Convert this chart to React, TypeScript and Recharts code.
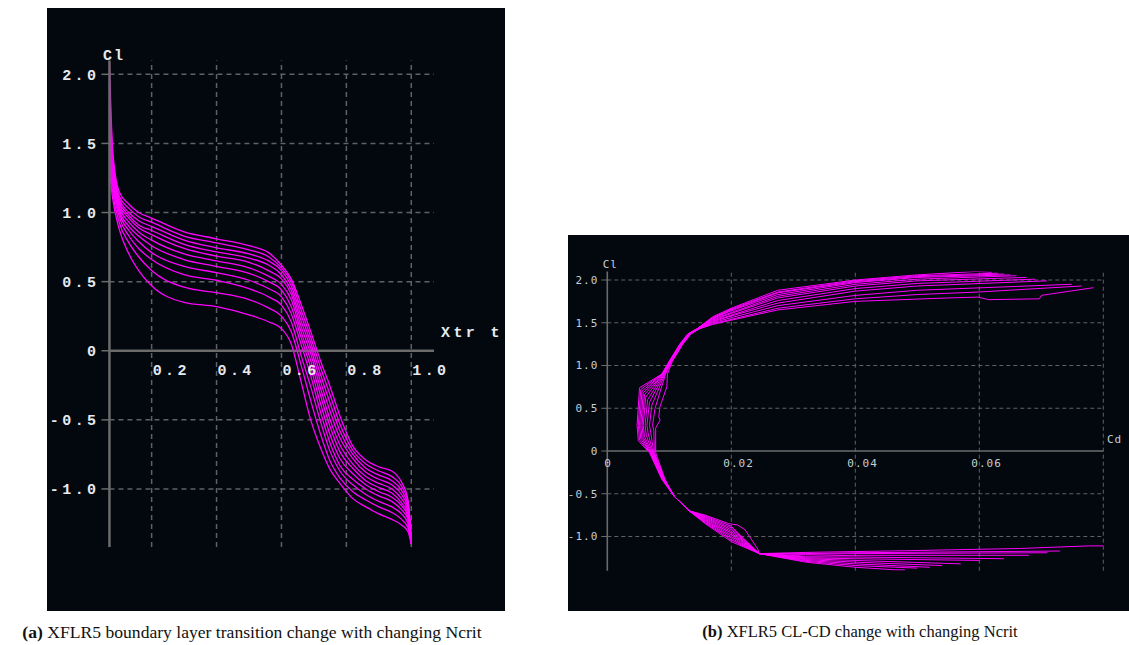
import React from "react";
import { LineChart, Line, XAxis, YAxis, ReferenceLine } from "recharts";

// ---------- (a) Cl vs top transition position, one curve per Ncrit ----------
const xtrPositions = [
  0.07, 0.08, 0.1, 0.13, 0.16, 0.2, 0.3, 0.4, 0.5, 0.56, 0.6, 0.63, 0.66, 0.69,
  0.72, 0.75, 0.78, 0.82, 0.86, 0.9, 0.94, 0.97, 0.99, 1.0,
];

const clXtr01 = [2.1, 1.45, 1.15, 1.06, 1.0, 0.96, 0.86, 0.81, 0.76, 0.71, 0.62, 0.52, 0.34, 0.14, -0.07, -0.26, -0.47, -0.69, -0.79, -0.84, -0.87, -0.95, -1.08, -1.35];
const clXtr02 = [1.95, 1.42, 1.12, 1.03, 0.97, 0.93, 0.83, 0.78, 0.73, 0.68, 0.6, 0.5, 0.3, 0.1, -0.12, -0.32, -0.53, -0.72, -0.82, -0.87, -0.91, -0.98, -1.1, -1.36];
const clXtr03 = [1.85, 1.39, 1.1, 1.0, 0.94, 0.9, 0.8, 0.745, 0.7, 0.65, 0.58, 0.47, 0.26, 0.06, -0.17, -0.38, -0.58, -0.75, -0.85, -0.9, -0.94, -1.01, -1.12, -1.37];
const clXtr04 = [1.75, 1.36, 1.08, 0.98, 0.91, 0.87, 0.77, 0.715, 0.67, 0.62, 0.55, 0.44, 0.22, 0.02, -0.22, -0.44, -0.63, -0.78, -0.88, -0.93, -0.97, -1.04, -1.14, -1.37];
const clXtr05 = [1.7, 1.33, 1.06, 0.96, 0.89, 0.84, 0.74, 0.685, 0.64, 0.58, 0.52, 0.41, 0.18, -0.02, -0.27, -0.5, -0.68, -0.82, -0.91, -0.96, -1.0, -1.07, -1.16, -1.38];
const clXtr06 = [1.62, 1.3, 1.04, 0.93, 0.86, 0.8, 0.7, 0.65, 0.6, 0.54, 0.48, 0.37, 0.14, -0.07, -0.32, -0.55, -0.73, -0.85, -0.94, -0.99, -1.03, -1.1, -1.18, -1.38];
const clXtr07 = [1.55, 1.27, 1.02, 0.9, 0.83, 0.76, 0.66, 0.61, 0.56, 0.5, 0.44, 0.32, 0.1, -0.12, -0.38, -0.61, -0.78, -0.89, -0.97, -1.02, -1.06, -1.12, -1.2, -1.39];
const clXtr08 = [1.5, 1.24, 1.0, 0.87, 0.79, 0.71, 0.61, 0.565, 0.51, 0.45, 0.39, 0.27, 0.05, -0.18, -0.44, -0.67, -0.83, -0.93, -1.0, -1.05, -1.09, -1.15, -1.22, -1.39];
const clXtr09 = [1.45, 1.2, 0.97, 0.83, 0.74, 0.66, 0.55, 0.51, 0.45, 0.39, 0.33, 0.21, -0.03, -0.26, -0.51, -0.73, -0.87, -0.97, -1.04, -1.09, -1.13, -1.18, -1.25, -1.4];
const clXtr10 = [1.38, 1.15, 0.93, 0.78, 0.68, 0.58, 0.46, 0.42, 0.37, 0.31, 0.25, 0.14, -0.1, -0.36, -0.6, -0.8, -0.92, -1.02, -1.08, -1.13, -1.17, -1.22, -1.28, -1.4];
const clXtr11 = [1.3, 1.1, 0.88, 0.7, 0.58, 0.47, 0.35, 0.32, 0.26, 0.21, 0.16, 0.05, -0.22, -0.5, -0.7, -0.86, -0.96, -1.07, -1.13, -1.18, -1.22, -1.26, -1.31, -1.4];

const xtrCurves = [clXtr01, clXtr02, clXtr03, clXtr04, clXtr05, clXtr06, clXtr07, clXtr08, clXtr09, clXtr10, clXtr11];

const leftXTicks = [0.2, 0.4, 0.6, 0.8, 1.0];
const leftYTicks = [-1, -0.5, 0, 0.5, 1, 1.5, 2];

// ---------- (b) Cl-Cd polars, points as [Cd, Cl] in alpha order ----------
const polar01 = [[0.048, -1.39], [0.0465, -1.39], [0.04, -1.36], [0.032, -1.3], [0.0245, -1.2], [0.02, -1.06], [0.0158, -0.85], [0.0132, -0.7], [0.0108, -0.53], [0.0088, -0.33], [0.0068, -0.02], [0.005, 0.12], [0.0048, 0.3], [0.0052, 0.74], [0.0088, 0.9], [0.01, 1.05], [0.0117, 1.25], [0.013, 1.37], [0.0145, 1.43], [0.017, 1.57], [0.02, 1.67], [0.0275, 1.88], [0.04, 2.0], [0.05, 2.06], [0.0595, 2.1], [0.062, 2.09]];
const polar02 = [[0.05, -1.37], [0.04, -1.34], [0.032, -1.29], [0.0245, -1.2], [0.02, -1.04], [0.0158, -0.84], [0.0132, -0.7], [0.0108, -0.53], [0.0088, -0.33], [0.0069, -0.02], [0.0052, 0.13], [0.005, 0.3], [0.0054, 0.72], [0.0088, 0.9], [0.01, 1.05], [0.0117, 1.25], [0.013, 1.37], [0.0145, 1.43], [0.017, 1.56], [0.02, 1.66], [0.0275, 1.86], [0.04, 1.99], [0.05, 2.05], [0.063, 2.08]];
const polar03 = [[0.052, -1.36], [0.04, -1.32], [0.032, -1.28], [0.0245, -1.2], [0.02, -1.02], [0.0158, -0.83], [0.0132, -0.7], [0.0108, -0.53], [0.0089, -0.33], [0.007, -0.02], [0.0054, 0.14], [0.0052, 0.3], [0.0056, 0.7], [0.0089, 0.9], [0.0101, 1.05], [0.0118, 1.25], [0.0131, 1.37], [0.0145, 1.43], [0.017, 1.555], [0.02, 1.65], [0.0275, 1.85], [0.04, 1.98], [0.05, 2.04], [0.064, 2.07]];
const polar04 = [[0.054, -1.34], [0.04, -1.3], [0.032, -1.27], [0.0245, -1.2], [0.02, -1.0], [0.0158, -0.82], [0.0132, -0.7], [0.0108, -0.53], [0.0089, -0.33], [0.007, -0.02], [0.0056, 0.15], [0.0054, 0.3], [0.0058, 0.68], [0.0089, 0.9], [0.0101, 1.05], [0.0118, 1.25], [0.0131, 1.37], [0.0146, 1.43], [0.017, 1.55], [0.02, 1.64], [0.0275, 1.83], [0.04, 1.97], [0.05, 2.03], [0.065, 2.06]];
const polar05 = [[0.057, -1.32], [0.04, -1.28], [0.032, -1.26], [0.0245, -1.2], [0.02, -0.98], [0.0158, -0.81], [0.0132, -0.7], [0.0108, -0.53], [0.009, -0.33], [0.0071, -0.02], [0.0058, 0.16], [0.0056, 0.3], [0.006, 0.66], [0.009, 0.9], [0.0102, 1.05], [0.0119, 1.25], [0.0132, 1.37], [0.0146, 1.43], [0.017, 1.54], [0.02, 1.62], [0.0275, 1.81], [0.04, 1.95], [0.05, 2.01], [0.066, 2.05]];
const polar06 = [[0.06, -1.28], [0.04, -1.26], [0.032, -1.25], [0.0245, -1.2], [0.02, -0.96], [0.0158, -0.8], [0.0132, -0.7], [0.0108, -0.53], [0.009, -0.33], [0.0072, -0.02], [0.006, 0.17], [0.0058, 0.3], [0.0062, 0.63], [0.009, 0.9], [0.0102, 1.05], [0.0119, 1.25], [0.0132, 1.37], [0.0146, 1.43], [0.017, 1.53], [0.02, 1.61], [0.0275, 1.79], [0.04, 1.93], [0.05, 1.99], [0.0676, 2.03]];
const polar07 = [[0.064, -1.26], [0.04, -1.24], [0.032, -1.24], [0.0245, -1.2], [0.02, -0.94], [0.0158, -0.79], [0.0132, -0.7], [0.0108, -0.53], [0.0091, -0.33], [0.0073, -0.02], [0.0063, 0.18], [0.0061, 0.3], [0.0065, 0.6], [0.0091, 0.9], [0.0103, 1.05], [0.012, 1.25], [0.0133, 1.37], [0.0147, 1.43], [0.017, 1.52], [0.02, 1.59], [0.0275, 1.76], [0.04, 1.9], [0.05, 1.96], [0.069, 2.01]];
const polar08 = [[0.068, -1.22], [0.04, -1.22], [0.032, -1.23], [0.0245, -1.2], [0.02, -0.92], [0.0158, -0.78], [0.0132, -0.7], [0.0108, -0.53], [0.0091, -0.33], [0.0074, -0.02], [0.0066, 0.2], [0.0064, 0.3], [0.0068, 0.57], [0.0092, 0.9], [0.0103, 1.05], [0.012, 1.25], [0.0133, 1.37], [0.0147, 1.43], [0.017, 1.51], [0.02, 1.58], [0.0275, 1.73], [0.04, 1.87], [0.05, 1.93], [0.0709, 1.99]];
const polar09 = [[0.071, -1.19], [0.04, -1.2], [0.032, -1.21], [0.0245, -1.2], [0.02, -0.9], [0.0158, -0.77], [0.0132, -0.7], [0.0108, -0.53], [0.0092, -0.33], [0.0075, -0.02], [0.007, 0.22], [0.0068, 0.3], [0.0072, 0.54], [0.0093, 0.9], [0.0104, 1.05], [0.0121, 1.25], [0.0134, 1.37], [0.0148, 1.43], [0.017, 1.5], [0.02, 1.56], [0.0275, 1.7], [0.04, 1.82], [0.05, 1.88], [0.0749, 1.95]];
const polar10 = [[0.073, -1.17], [0.04, -1.19], [0.032, -1.2], [0.0245, -1.2], [0.02, -0.88], [0.0158, -0.76], [0.0132, -0.7], [0.0108, -0.53], [0.0092, -0.33], [0.0076, -0.02], [0.0075, 0.24], [0.0073, 0.3], [0.0077, 0.5], [0.0094, 0.9], [0.0104, 1.05], [0.0121, 1.25], [0.0134, 1.37], [0.0148, 1.43], [0.017, 1.49], [0.02, 1.54], [0.0275, 1.67], [0.04, 1.78], [0.05, 1.83], [0.06, 1.86], [0.0765, 1.93]];
const polar11 = [[0.08, -1.11], [0.0776, -1.11], [0.0666, -1.14], [0.0483, -1.166], [0.0327, -1.185], [0.0245, -1.2], [0.0243, -1.15], [0.0222, -0.92], [0.021, -0.865], [0.0196, -0.85], [0.0158, -0.75], [0.0132, -0.7], [0.0108, -0.53], [0.0093, -0.33], [0.0078, -0.02], [0.0078, 0.27], [0.0085, 0.36], [0.0083, 0.4], [0.0085, 0.52], [0.0096, 0.75], [0.0097, 0.9], [0.0105, 1.05], [0.0122, 1.25], [0.0135, 1.37], [0.0149, 1.43], [0.017, 1.48], [0.02, 1.53], [0.0275, 1.65], [0.04, 1.75], [0.0549, 1.79], [0.0598, 1.8], [0.0615, 1.77], [0.0697, 1.78], [0.07, 1.82], [0.0784, 1.91]];

const polarCurves = [polar01, polar02, polar03, polar04, polar05, polar06, polar07, polar08, polar09, polar10, polar11];

const rightXTicks = [0, 0.02, 0.04, 0.06, 0.08];
const rightYTicks = [-1, -0.5, 0, 0.5, 1, 1.5, 2];

// ---------- styling / layout ----------
const PANEL_BG = "#02080e";
const CURVE = "#ff00ff";
const GRID = "#5f6265";
const AXIS = "#6b6b6b";
const MONO_L = "'Liberation Mono', monospace";
const MONO_R = "'DejaVu Sans Mono', monospace";
const TEXT_L = "#e6eaee";
const TEXT_R = "#c6ced6";

const L_W = 458;
const L_H = 603;
const L_MARGIN = { top: 52.5, right: 71, bottom: 34, left: 0 };
const L_XAXIS_H = 30;
const L_XDOMAIN: [number, number] = [0.07, 1.07];
const L_YDOMAIN: [number, number] = [-1.42, 2.1];
const L_PLOT_H = L_H - L_MARGIN.top - L_MARGIN.bottom - L_XAXIS_H;
const L_ZERO_Y = L_MARGIN.top + (L_PLOT_H * L_YDOMAIN[1]) / (L_YDOMAIN[1] - L_YDOMAIN[0]);

const R_W = 561;
const R_H = 376;
const R_MARGIN = { top: 36.45, right: 25.7, bottom: 10.3, left: 0 };
const R_XAXIS_H = 30;
const R_XDOMAIN: [number, number] = [0, 0.08];
const R_YDOMAIN: [number, number] = [-1.4, 2.1];
const R_PLOT_H = R_H - R_MARGIN.top - R_MARGIN.bottom - R_XAXIS_H;
const R_ZERO_Y = R_MARGIN.top + (R_PLOT_H * R_YDOMAIN[1]) / (R_YDOMAIN[1] - R_YDOMAIN[0]);

const fmtCl = (v: number) => (v === 0 ? "0" : v.toFixed(1));

const LeftXTick = (props: any) => {
  const { x, payload } = props;
  return (
    <text x={x + 1} y={L_ZERO_Y + 19} dy="0.35em" textAnchor="start" fill={TEXT_L}
      fontFamily={MONO_L} fontSize={15} fontWeight="bold" letterSpacing={3.4}>
      {Number(payload.value).toFixed(1)}
    </text>
  );
};

const LeftYTick = (props: any) => {
  const { x, y, payload } = props;
  return (
    <text x={x + 2} y={y} dy="0.35em" textAnchor="end" fill={TEXT_L}
      fontFamily={MONO_L} fontSize={15} fontWeight="bold" letterSpacing={3.4}>
      {fmtCl(payload.value)}
    </text>
  );
};

const RightXTick = (props: any) => {
  const { x, payload } = props;
  const v = Number(payload.value);
  if (v >= 0.08) return null;
  return (
    <text x={v === 0 ? x - 3 : x - 8} y={R_ZERO_Y + 12} dy="0.35em" textAnchor="start" fill={TEXT_R}
      fontFamily={MONO_R} fontSize={11} letterSpacing={1}>
      {v === 0 ? "0" : v.toFixed(2)}
    </text>
  );
};

const RightYTick = (props: any) => {
  const { x, y, payload } = props;
  return (
    <text x={x} y={y} dy="0.35em" textAnchor="end" fill={TEXT_R}
      fontFamily={MONO_R} fontSize={11} letterSpacing={1}>
      {fmtCl(payload.value)}
    </text>
  );
};

// axis name placed relative to the end of an axis line (viewBox given by recharts)
const AxisName = (props: any) => {
  const { viewBox, text, dx, dy, font, size, spacing, color, weight } = props;
  const vb = viewBox ?? { x: 0, y: 0, width: 0, height: 0 };
  return (
    <text x={vb.x + vb.width + dx} y={vb.y + dy} dy="0.35em" textAnchor="start" fill={color}
      fontFamily={font} fontSize={size} fontWeight={weight} letterSpacing={spacing}>
      {text}
    </text>
  );
};

const TransitionChart = () => {
  const rows = xtrPositions.map((x, i) => {
    const row: Record<string, number> = { x };
    xtrCurves.forEach((c, k) => {
      row[`n${k}`] = c[i];
    });
    return row;
  });
  return (
    <LineChart width={L_W} height={L_H} data={rows} margin={L_MARGIN}>
      <XAxis dataKey="x" type="number" domain={L_XDOMAIN} ticks={leftXTicks} interval={0}
        allowDataOverflow axisLine={false} tickLine={false} height={L_XAXIS_H} tick={<LeftXTick />} />
      <YAxis type="number" domain={L_YDOMAIN} ticks={leftYTicks} interval={0} allowDataOverflow
        width={62.45} axisLine={{ stroke: AXIS, strokeWidth: 2.5 }} tickLine={{ stroke: AXIS, strokeWidth: 1.5 }}
        tickSize={8} tickMargin={4} tick={<LeftYTick />}
        label={<AxisName text="Cl" dx={-6.5} dy={-5.5} font={MONO_L} size={15} weight="bold" spacing={2} color={TEXT_L} />} />
      {leftYTicks.filter((t) => t !== 0).map((t) => (
        <ReferenceLine key={`gy${t}`} y={t} stroke={GRID} strokeWidth={1.5} strokeDasharray="5 4" />
      ))}
      {leftXTicks.map((t) => (
        <ReferenceLine key={`gx${t}`} x={t} stroke={GRID} strokeWidth={1.5} strokeDasharray="5 4" />
      ))}
      <ReferenceLine y={0} stroke={AXIS} strokeWidth={2.5}
        label={<AxisName text="Xtr t" dx={7} dy={-19} font={MONO_L} size={15} weight="bold" spacing={3.4} color={TEXT_L} />} />
      {xtrCurves.map((_, k) => (
        <Line key={k} dataKey={`n${k}`} type="monotone" stroke={CURVE} strokeWidth={1.3}
          dot={false} activeDot={false} isAnimationActive={false} />
      ))}
    </LineChart>
  );
};

const PolarChart = () => (
  <LineChart width={R_W} height={R_H} margin={R_MARGIN}>
    <XAxis dataKey="cd" type="number" domain={R_XDOMAIN} ticks={rightXTicks} interval={0}
      allowDataOverflow axisLine={false} tickLine={false} height={R_XAXIS_H} tick={<RightXTick />} />
    <YAxis type="number" domain={R_YDOMAIN} ticks={rightYTicks} interval={0} allowDataOverflow
      width={39.3} axisLine={{ stroke: AXIS, strokeWidth: 1.6 }} tickLine={{ stroke: AXIS, strokeWidth: 1 }}
      tickSize={6} tickMargin={3} tick={<RightYTick />}
      label={<AxisName text="Cl" dx={-4.6} dy={-7.5} font={MONO_R} size={11} spacing={1} color={TEXT_R} />} />
    {rightYTicks.filter((t) => t !== 0).map((t) => (
      <ReferenceLine key={`gy${t}`} y={t} stroke={GRID} strokeWidth={1} strokeDasharray="4 3" />
    ))}
    {rightXTicks.filter((t) => t !== 0).map((t) => (
      <ReferenceLine key={`gx${t}`} x={t} stroke={GRID} strokeWidth={1} strokeDasharray="4 3" />
    ))}
    <ReferenceLine y={0} stroke={AXIS} strokeWidth={1.6}
      label={<AxisName text="Cd" dx={3.7} dy={-12} font={MONO_R} size={11} spacing={1} color={TEXT_R} />} />
    {polarCurves.map((curve, k) => (
      <Line key={k} data={curve.map(([cd, cl]) => ({ cd, cl }))} dataKey="cl" type="linear"
        stroke={CURVE} strokeWidth={1} dot={false} activeDot={false} isAnimationActive={false} />
    ))}
  </LineChart>
);

const captionStyle: React.CSSProperties = {
  position: "absolute",
  top: 622,
  fontFamily: "'Liberation Serif', serif",
  color: "#111",
  textAlign: "center",
  whiteSpace: "nowrap",
  lineHeight: "20px",
};

export default function App() {
  return (
    <div style={{ position: "absolute", left: 0, top: 0, width: 1129, height: 645, background: "#fff", overflow: "hidden" }}>
      <div style={{ position: "absolute", left: 47, top: 8, width: L_W, height: L_H, background: PANEL_BG }}>
        <TransitionChart />
      </div>
      <div style={{ position: "absolute", left: 568, top: 235, width: R_W, height: R_H, background: PANEL_BG }}>
        <PolarChart />
      </div>
      <div style={{ ...captionStyle, left: 0, width: 504, fontSize: 17.6 }}>
        <b>(a)</b> XFLR5 boundary layer transition change with changing Ncrit
      </div>
      <div style={{ ...captionStyle, left: 660, width: 400, fontSize: 16.5 }}>
        <b>(b)</b> XFLR5 CL-CD change with changing Ncrit
      </div>
    </div>
  );
}
